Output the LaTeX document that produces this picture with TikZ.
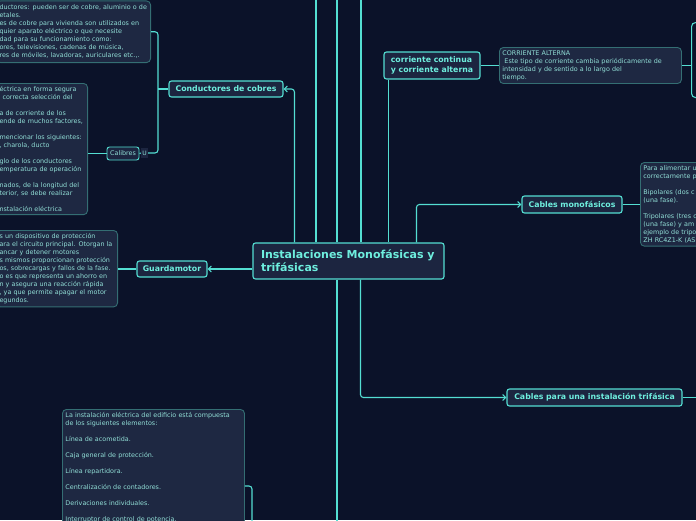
\documentclass[tikz,border=0pt]{standalone}
\usepackage{fontspec}
\setmainfont{DejaVu Sans}
\usetikzlibrary{arrows.meta,positioning,calc}
\definecolor{bgcol}{RGB}{11,18,41}
\definecolor{lncol}{RGB}{84,222,210}
\definecolor{nfill}{RGB}{28,37,64}
\definecolor{ntext}{RGB}{110,238,222}
\definecolor{tfill}{RGB}{30,40,66}
\definecolor{tline}{RGB}{52,110,115}
\definecolor{ttext}{RGB}{145,222,214}
\tikzset{
  topic/.style={draw=lncol,line width=1.1pt,fill=nfill,rounded corners=2.5pt,text=ntext,font=\bfseries\fontsize{7.8}{9.5}\selectfont,inner sep=0pt,align=left},
  note/.style={draw=tline,line width=0.9pt,fill=tfill,rounded corners=4pt,text=ttext,font=\fontsize{6.4}{8}\selectfont,inner sep=3pt,align=left},
  conn/.style={draw=lncol,line width=1.1pt},
  arr/.style={conn,-{Straight Barb[length=3pt,width=6pt]}},
}

\begin{document}
\begin{tikzpicture}[x=1pt,y=-1pt]
\useasboundingbox (0,0) rectangle (696,520);
\fill[bgcol] (0,0) rectangle (696,520);
% central topic and main branches
\node[topic,font=\bfseries\fontsize{11}{13}\selectfont,minimum width=191pt,minimum height=36pt,text width=175pt] (main) at (348.5,261) {\mbox{Instalaciones Monofásicas y}\\trifásicas};
\node[topic,minimum width=114pt,minimum height=16pt] (cobres) at (226,89) {Conductores de cobres};
\node[topic,minimum width=70pt,minimum height=16pt] (guarda) at (172,269) {Guardamotor};
\node[topic,minimum width=96pt,minimum height=27pt] (corr) at (432,65.5) {corriente continua\\y corriente alterna};
\node[topic,minimum width=100pt,minimum height=17pt] (mono) at (572,204.5) {Cables monofásicos};
\node[topic,minimum width=175pt,minimum height=17pt] (tri) at (594.5,397.5) {Cables para una instalación trifásica};
\node[topic,font=\fontsize{6.4}{7}\selectfont,text=ttext,line width=0.9pt,minimum width=32pt,minimum height=13pt] (calib) at (123,153.5) {Calibres};
\node[fill=nfill,text=ttext,font=\fontsize{6}{7}\selectfont,minimum width=7pt,minimum height=10pt,inner sep=0pt] (ubox) at (144.5,153) {U};
\node[draw=lncol,line width=1.1pt,fill=bgcol,rounded corners=4pt,minimum width=30pt,minimum height=75pt,inner sep=0pt,anchor=north west] (rbox) at (691,22) {};
% notes
\node[note,inner ysep=4pt,text width=148pt,anchor=south east] (txtcobre) at (151,63) {ductores: pueden ser de cobre, aluminio o de\\
etales.\\
es de cobre para vivienda son utilizados en\\
quier aparato eléctrico o que necesite\\
dad para su funcionamiento como:\\
ores, televisiones, cadenas de música,\\
res de móviles, lavadoras, auriculares etc.,.};
\node[note,text width=85pt,anchor=north east] (txtcalib) at (88,83) {éctrica en forma segura\\
\hspace*{3pt}correcta selección del\\[8pt]
a de corriente de los\\
ende de muchos factores,\\[8pt]
mencionar los siguientes:\\
, charola, ducto\\[8pt]
glo de los conductores\\
emperatura de operación\\[8pt]
nados, de la longitud del\\
terior, se debe realizar\\[8pt]
nstalación eléctrica};
\node[note,text width=115pt,anchor=north east] (txtguarda) at (118,230) {s un dispositivo de protección\\
ara el circuito principal. Otorgan la\\
ancar y detener motores\\
s mismos proporcionan protección\\
os, sobrecargas y fallos de la fase.\\
o es que representa un ahorro en\\
n y asegura una reacción rápida\\
, ya que permite apagar el motor\\
egundos.};
\node[note,text width=176pt,anchor=north west] (txtedif) at (62,409) {La instalación eléctrica del edificio está compuesta\\
de los siguientes elementos:\\[8pt]
Línea de acometida.\\[8pt]
Caja general de protección.\\[8pt]
Línea repartidora.\\[8pt]
Centralización de contadores.\\[8pt]
Derivaciones individuales.\\[8pt]
Interruptor de control de potencia.};
\node[note,text width=176pt,anchor=north west] (txtalt) at (499,47) {CORRIENTE ALTERNA\\
\hspace*{2pt}Este tipo de corriente cambia periódicamente de\\
intensidad y de sentido a lo largo del\\
tiempo.};
\node[note,text width=70pt,anchor=north west] (txtmono) at (640,162) {Para alimentar u\\
correctamente p\\[8pt]
Bipolares (dos c\\
(una fase).\\[8pt]
Tripolares (tres c\\
(una fase) y am\\
ejemplo de tripo\\
ZH RC4Z1-K (AS};
% free ends off the page
\coordinate (up1) at (316,-5);
\coordinate (up2) at (337,-5);
\coordinate (up3) at (361,-5);
\coordinate (dn1) at (337,525);
\coordinate (dn2) at (252,525);
\coordinate (jd) at (252,486);
\coordinate (jc) at (158,89);
\coordinate (rt) at (700,397.5);
% connectors
\draw[arr,rounded corners=3pt] ([xshift=42pt]main.north west) |- (cobres.east);
\draw[conn] (up1 |- main.north) -- (up1);
\draw[conn] (up2 |- main.north) -- (up2);
\draw[conn] (up3 |- main.north) -- (up3);
\draw[conn] (dn1 |- main.south) -- (dn1);
\draw[conn] ([xshift=5pt]corr.south west) -- ([xshift=5pt]corr.south west |- main.north);
\draw[arr,rounded corners=3pt] ([xshift=164pt]main.north west) |- (mono.west);
\draw[arr,rounded corners=3pt] ([xshift=108pt]main.south west) |- (tri.west);
\draw[arr] (main.west |- guarda.east) -- (guarda.east);
\draw[conn] (cobres.west) -- (jc);
\draw[conn,rounded corners=3pt] (txtcobre.east) -| (jc) |- (ubox.east);
\draw[conn] (calib.east) -- (ubox.west);
\draw[conn] (calib.west) -- (calib.west -| txtcalib.east);
\draw[conn] (guarda.west) -- (guarda.west -| txtguarda.east);
\draw[conn] (corr.east) -- (corr.east -| txtalt.west);
\draw[conn] (txtalt.east) -- (txtalt.east -| rbox.west);
\draw[conn] (mono.east) -- (mono.east -| txtmono.west);
\draw[conn] (tri.east) -- (rt);
\draw[conn,rounded corners=3pt] (jd -| txtedif.east) -| (dn2);
\end{tikzpicture}
\end{document}
